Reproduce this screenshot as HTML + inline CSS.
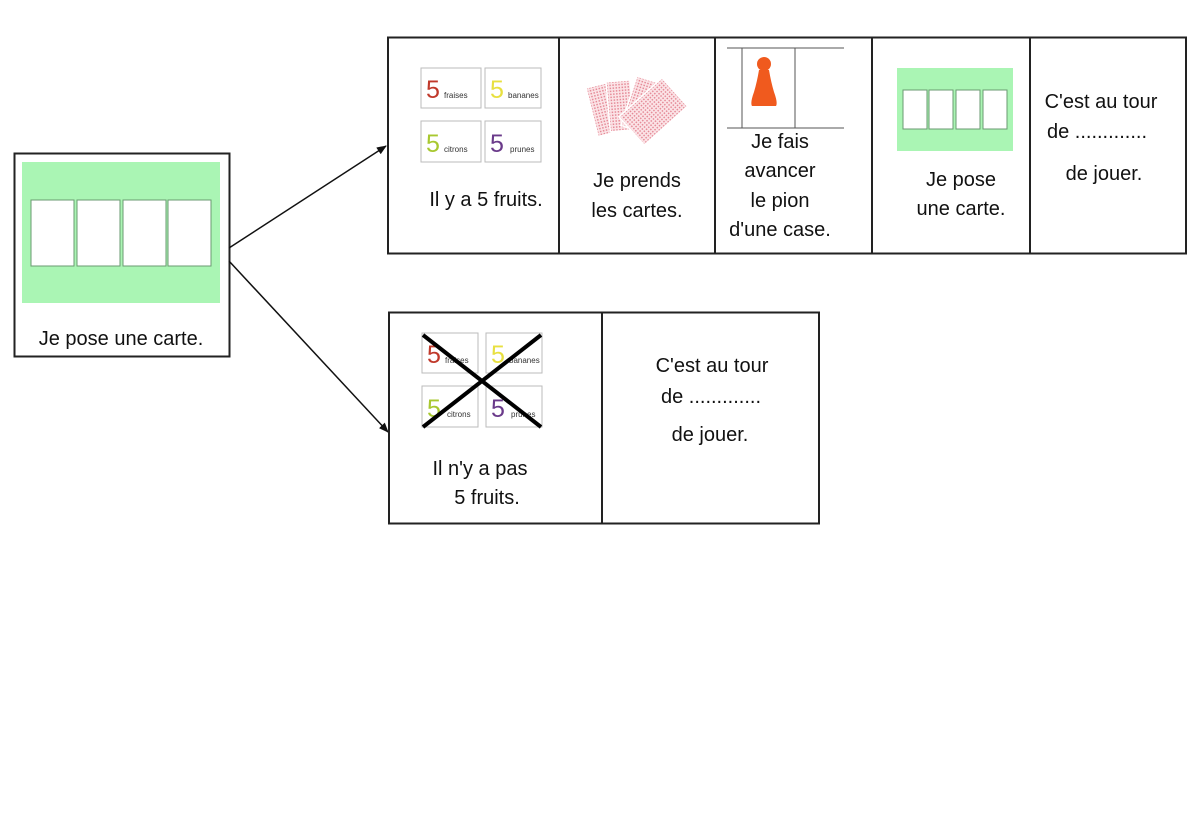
<!DOCTYPE html>
<html><head><meta charset="utf-8"><style>
html,body{margin:0;padding:0;background:#fff;}
svg{display:block;}
text{font-family:"Liberation Sans",sans-serif;font-size:20px;fill:#111;}
.s{font-size:8px;fill:#333;}
.n{font-size:25px;}
</style></head><body>
<svg width="1200" height="816" viewBox="0 0 1200 816" xmlns="http://www.w3.org/2000/svg">
<defs>
<marker id="ah" markerWidth="10" markerHeight="8" refX="9" refY="4" orient="auto" markerUnits="userSpaceOnUse">
<path d="M0,0 L10,4 L0,8 z" fill="#111"/></marker>
<pattern id="pp" width="3" height="3" patternUnits="userSpaceOnUse"><rect width="3" height="3" fill="#fbe3e6"/><rect width="1.5" height="1.5" fill="#e58a97"/></pattern>
</defs>

<rect x="14.5" y="153.5" width="215" height="203" fill="#fff" stroke="#222" stroke-width="2"/>
<rect x="22" y="162" width="198" height="141" fill="#aaf5b4"/>
<g fill="#fff" stroke="#6a9a70" stroke-width="1">
<rect x="31" y="200" width="43" height="66"/><rect x="77" y="200" width="43" height="66"/>
<rect x="123" y="200" width="43" height="66"/><rect x="168" y="200" width="43" height="66"/></g>
<text x="121" y="345" text-anchor="middle">Je pose une carte.</text>

<line x1="229" y1="248" x2="386" y2="146" stroke="#111" stroke-width="1.5" marker-end="url(#ah)"/>
<line x1="229" y1="261" x2="388" y2="432" stroke="#111" stroke-width="1.5" marker-end="url(#ah)"/>

<rect x="388" y="37.5" width="798" height="216" fill="#fff" stroke="#222" stroke-width="2"/>
<g stroke="#222" stroke-width="2"><line x1="559" y1="37" x2="559" y2="253"/><line x1="715" y1="37" x2="715" y2="253"/><line x1="872" y1="37" x2="872" y2="253"/><line x1="1030" y1="37" x2="1030" y2="253"/></g>

<g stroke="#bbb" stroke-width="1" fill="#fff">
<rect x="421" y="68" width="60" height="40"/><rect x="485" y="68" width="56" height="40"/>
<rect x="421" y="121" width="60" height="41"/><rect x="485" y="121" width="56" height="41"/></g>
<text class="n" x="426" y="98" style="fill:#c0392b">5</text><text class="s" x="444" y="98">fraises</text>
<text class="n" x="490" y="98" style="fill:#e8e040">5</text><text class="s" x="508" y="98">bananes</text>
<text class="n" x="426" y="152" style="fill:#a8c830">5</text><text class="s" x="444" y="152">citrons</text>
<text class="n" x="490" y="152" style="fill:#6a3a8a">5</text><text class="s" x="510" y="152">prunes</text>
<text x="486" y="206" text-anchor="middle">Il y a 5 fruits.</text>

<g stroke="#fff" stroke-width="1.5" fill="url(#pp)">
<rect x="0" y="0" width="24" height="50" transform="translate(586,88) rotate(-14)"/>
<rect x="0" y="0" width="24" height="50" transform="translate(606,82) rotate(-5)"/>
<rect x="0" y="0" width="26" height="52" transform="translate(637,76) rotate(18)"/>
<rect x="0" y="0" width="38" height="58" transform="translate(662,78) rotate(48)"/>
</g>
<text x="637" y="187" text-anchor="middle">Je prends</text>
<text x="637" y="217" text-anchor="middle">les cartes.</text>

<g stroke="#555" stroke-width="1"><line x1="727" y1="48" x2="844" y2="48"/><line x1="727" y1="128" x2="844" y2="128"/>
<line x1="742" y1="48" x2="742" y2="128"/><line x1="795" y1="48" x2="795" y2="128"/></g>
<circle cx="764" cy="64" r="7" fill="#f05a1e"/>
<path d="M759,70 Q757,82 754,92 Q750,103 752,106 L776,106 Q778,103 774,92 Q771,82 769,70 Z" fill="#f05a1e"/>
<text x="780" y="148" text-anchor="middle">Je fais</text>
<text x="780" y="177" text-anchor="middle">avancer</text>
<text x="780" y="207" text-anchor="middle">le pion</text>
<text x="780" y="236" text-anchor="middle">d'une case.</text>

<rect x="897" y="68" width="116" height="83" fill="#aaf5b4"/>
<g fill="#fff" stroke="#6a9a70" stroke-width="1">
<rect x="903" y="90" width="24" height="39"/><rect x="929" y="90" width="24" height="39"/>
<rect x="956" y="90" width="24" height="39"/><rect x="983" y="90" width="24" height="39"/></g>
<text x="961" y="186" text-anchor="middle">Je pose</text>
<text x="961" y="215" text-anchor="middle">une carte.</text>

<text x="1101" y="108" text-anchor="middle">C'est au tour</text>
<text x="1097" y="138" text-anchor="middle">de .............</text>
<text x="1104" y="180" text-anchor="middle">de jouer.</text>

<rect x="389" y="312.5" width="430" height="211" fill="#fff" stroke="#222" stroke-width="2"/>
<line x1="602" y1="312" x2="602" y2="523" stroke="#222" stroke-width="2"/>
<g stroke="#bbb" stroke-width="1" fill="#fff">
<rect x="422" y="333" width="56" height="40"/><rect x="486" y="333" width="56" height="40"/>
<rect x="422" y="386" width="56" height="41"/><rect x="486" y="386" width="56" height="41"/></g>
<text class="n" x="427" y="363" style="fill:#c0392b">5</text><text class="s" x="445" y="363">fraises</text>
<text class="n" x="491" y="363" style="fill:#e8e040">5</text><text class="s" x="509" y="363">bananes</text>
<text class="n" x="427" y="417" style="fill:#a8c830">5</text><text class="s" x="447" y="417">citrons</text>
<text class="n" x="491" y="417" style="fill:#6a3a8a">5</text><text class="s" x="511" y="417">prunes</text>
<g stroke="#000" stroke-width="4"><line x1="423" y1="335" x2="541" y2="427"/><line x1="541" y1="335" x2="423" y2="427"/></g>
<text x="480" y="475" text-anchor="middle">Il n'y a pas</text>
<text x="487" y="504" text-anchor="middle">5 fruits.</text>

<text x="712" y="372" text-anchor="middle">C'est au tour</text>
<text x="711" y="403" text-anchor="middle">de .............</text>
<text x="710" y="441" text-anchor="middle">de jouer.</text>
</svg>
</body></html>
